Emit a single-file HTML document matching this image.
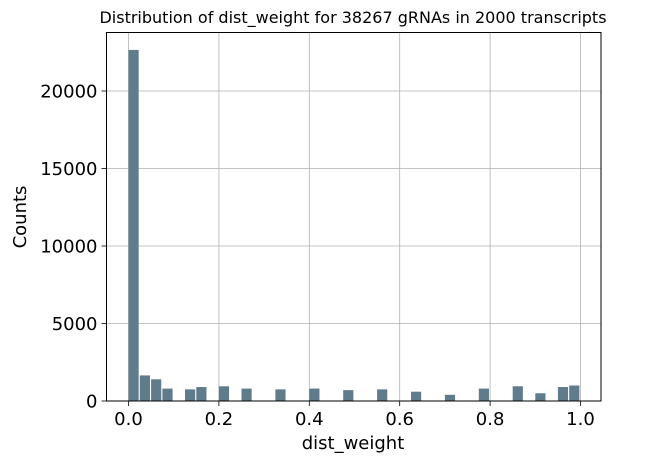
<!DOCTYPE html>
<html><head><meta charset="utf-8"><style>
body{margin:0;background:#fff;}
svg text{font-family:"DejaVu Sans","Liberation Sans",sans-serif;fill:#000;}
</style></head><body>
<svg id="chart" width="650" height="466">
<text x="353" y="23" font-size="16" text-anchor="middle">Distribution of dist_weight for 38267 gRNAs in 2000 transcripts</text>
<g id="grid"></g><g id="bars"></g><g id="axes"></g>
<text x="353" y="449" font-size="18" text-anchor="middle">dist_weight</text>
<text x="26" y="217" font-size="18" text-anchor="middle" transform="rotate(-90 26 217)">Counts</text>
</svg>
<script>
const binStarts=[0,0.025,0.05,0.075,0.125,0.15,0.2,0.25,0.325,0.4,0.475,0.55,0.625,0.7,0.775,0.85,0.9,0.95,0.975];
const counts=[22650,1650,1400,800,750,900,950,800,750,800,700,750,600,400,800,950,500,900,1000];
const xTicks=[0,0.2,0.4,0.6,0.8,1.0];
const xTickLabels=["0.0","0.2","0.4","0.6","0.8","1.0"];
const yTicks=[0,5000,10000,15000,20000];
const yTickLabels=["0","5000","10000","15000","20000"];
const binWidth=0.025;
const L=106.5,R=601,T=32.5,B=401;
const X=v=>128.5+v*452;
const Y=v=>401-v*0.0155;
const NS="http://www.w3.org/2000/svg";
function mk(tag,attrs,parent){const e=document.createElementNS(NS,tag);for(const k in attrs)e.setAttribute(k,attrs[k]);parent.appendChild(e);return e;}
const grid=document.getElementById('grid'),bars=document.getElementById('bars'),axes=document.getElementById('axes');
xTicks.forEach((t,i)=>{
 const g=mk('line',{x1:X(t),x2:X(t),y1:T,y2:B,stroke:'#b0b0b0','stroke-width':0.8},grid);
 
 
 const tk=mk('line',{x1:X(t),x2:X(t),y1:B,y2:B+5,stroke:'#000','stroke-width':0.8},axes);
 
 
 const lb=mk('text',{x:X(t),y:B+24,'font-size':18,'text-anchor':'middle'},axes);
 lb.textContent=xTickLabels[i];
 
 
});
yTicks.forEach((t,i)=>{
 const g=mk('line',{x1:L,x2:R,y1:Y(t),y2:Y(t),stroke:'#b0b0b0','stroke-width':0.8},grid);
 
 
 const tk=mk('line',{x1:L-5,x2:L,y1:Y(t),y2:Y(t),stroke:'#000','stroke-width':0.8},axes);
 
 
 const lb=mk('text',{x:L-9,y:Y(t)+6.5,'font-size':18,'text-anchor':'end'},axes);
 lb.textContent=yTickLabels[i];
 
 
});
binStarts.forEach((b,i)=>{
 const x0=X(b),w=binWidth*452*0.9;
 const r=mk('rect',{x:x0,y:Y(counts[i]),width:w,height:B-Y(counts[i]),fill:'#607b8b'},bars);
 
 
});
const frame=mk('rect',{x:L,y:T,width:R-L,height:B-T,fill:'none',stroke:'#000','stroke-width':1},axes);


</script>
</body></html>
